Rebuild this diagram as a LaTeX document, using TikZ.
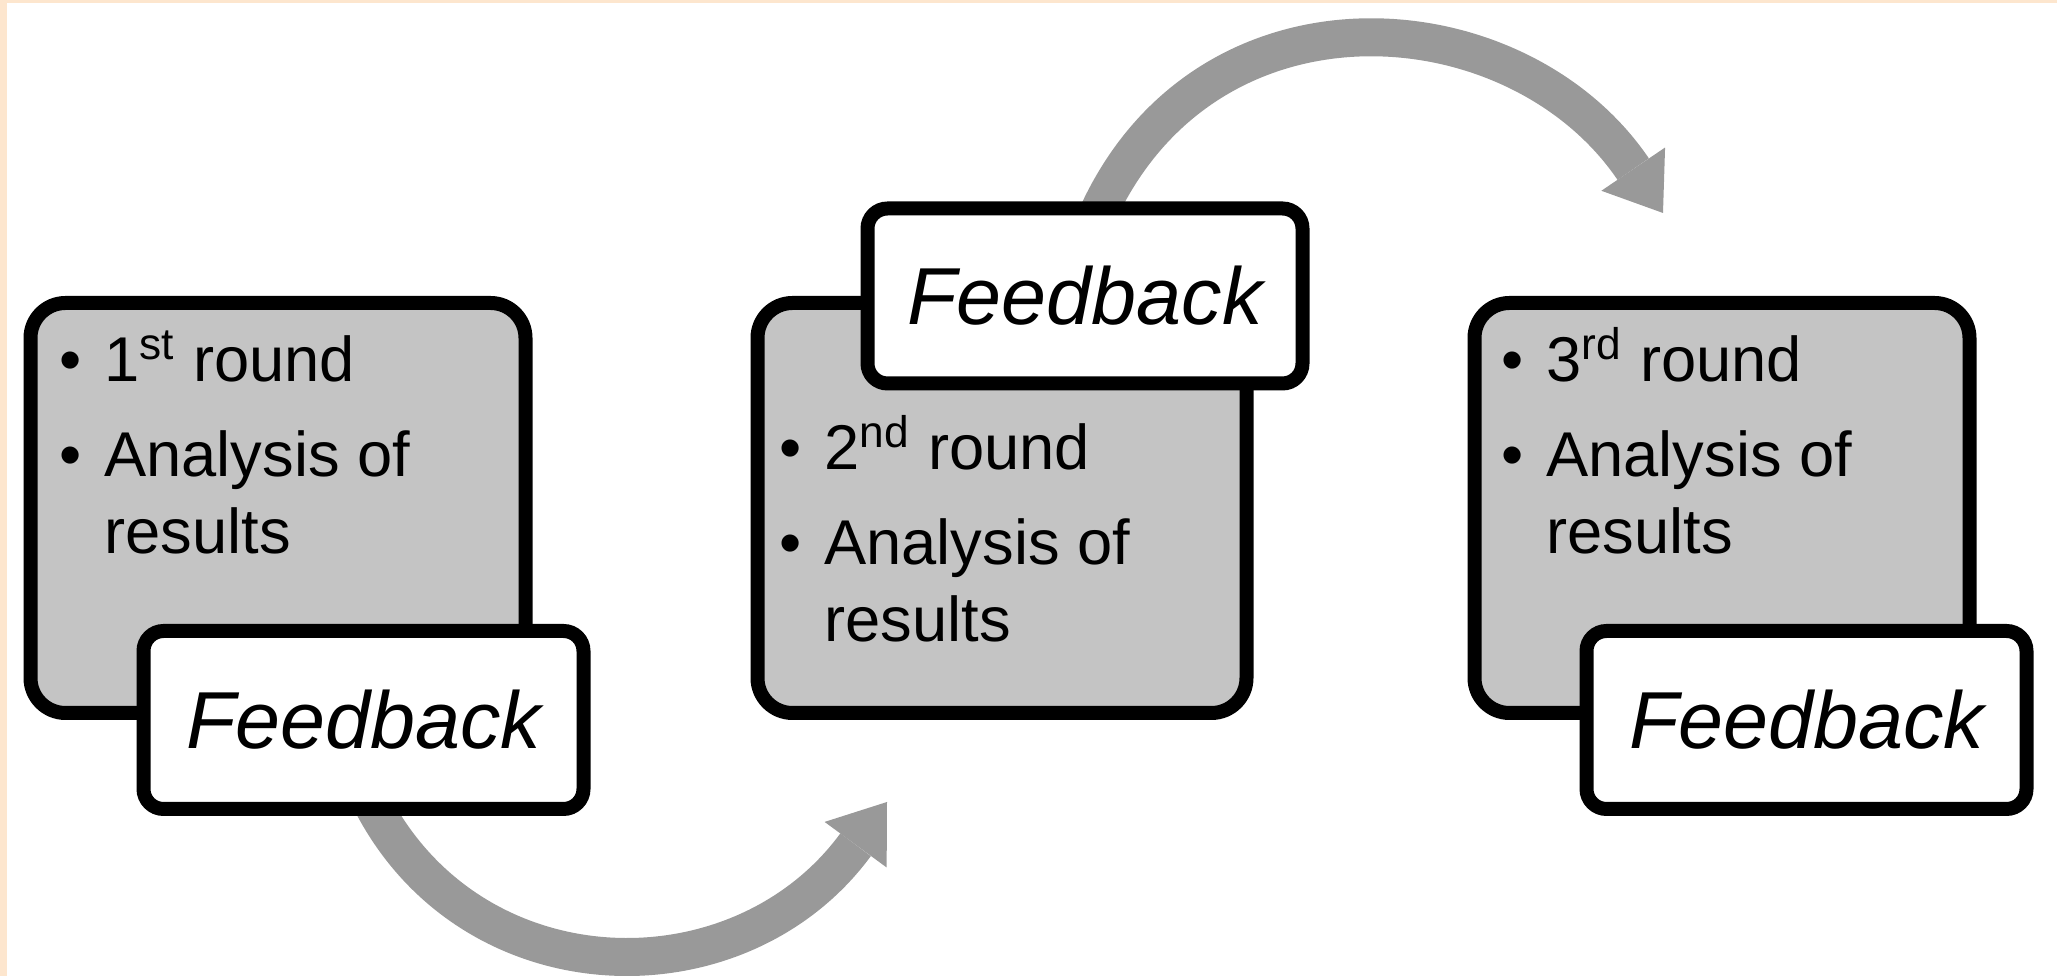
\documentclass[tikz,border=0pt]{standalone}
\usepackage{fontspec}
\setmainfont{Liberation Sans}
\usetikzlibrary{arrows.meta,backgrounds}
\definecolor{peach}{RGB}{253,230,206}
\definecolor{boxgray}{RGB}{196,196,196}
\definecolor{arrowgray}{RGB}{153,153,153}
\newcommand{\rounditems}[2]{%
  \begin{tabular}[t]{@{}l@{\hspace{0.23cm}}l@{}}
    \textbullet & #1\textsuperscript{#2} round\\[0.17cm]
    \textbullet & Analysis of\\
                & results
  \end{tabular}}
\begin{document}
\begin{tikzpicture}[
  roundbox/.style={rectangle,draw,line width=0.14cm,rounded corners=0.35cm,
    fill=boxgray,minimum width=4.95cm,minimum height=4.1cm},
  fbbox/.style={rectangle,draw,line width=0.14cm,rounded corners=0.2cm,
    fill=white,minimum width=4.4cm,minimum height=1.78cm,
    font=\fontsize{23}{27}\selectfont\itshape},
  items/.style={anchor=base west,inner sep=0pt,font=\fontsize{18}{22}\selectfont},
  curvearrow/.style={draw=arrowgray,line width=0.38cm,
    -{Triangle[length=5.3mm,width=7.7mm,line width=0pt]}}]
  \useasboundingbox (0,0) rectangle (20.57,9.76);

  \node [roundbox] (r1) at (2.78,4.68) {};
  \node [fbbox,anchor=east] (f1) at ([xshift=5.8mm]r1.south east) {Feedback};
  \node [items] (t1) at ([shift={(0.35,-0.86)}]r1.north west) {\rounditems{1}{st}};

  \node [roundbox,minimum width=4.89cm] (r2) at (10.02,4.68) {};
  \node [fbbox,minimum width=4.35cm,minimum height=1.75cm,anchor=east] (f2)
    at ([xshift=5.6mm]r2.north east) {Feedback};
  \node [items] (t2) at ([shift={(0.28,-1.74)}]r2.north west) {\rounditems{2}{nd}};

  \node [roundbox] (r3) at (17.22,4.68) {};
  \node [fbbox,anchor=east] (f3) at ([xshift=5.7mm]r3.south east) {Feedback};
  \node [items] (t3) at ([shift={(0.33,-0.86)}]r3.north west) {\rounditems{3}{rd}};

  \coordinate (h1) at (8.87,1.74);
  \coordinate (h2) at (16.63,7.63);

  \begin{scope}[on background layer]
    \fill [peach] (0,9.73) rectangle (20.57,9.76);
    \fill [peach] (0,0) rectangle (0.07,9.76);
    \draw [curvearrow] ([xshift=0.8mm,yshift=1.4mm]f1.south)
      .. controls +(1.01,-1.96) and +(-1.48,-2.015) .. (h1);
    \draw [curvearrow] ([xshift=1.2mm,yshift=-1.4mm]f2.north)
      .. controls +(1.10,2.42) and +(-1.46,2.15) .. (h2);
  \end{scope}
\end{tikzpicture}
\end{document}
